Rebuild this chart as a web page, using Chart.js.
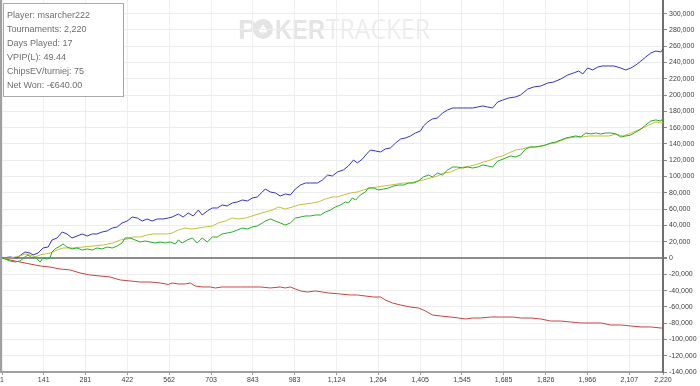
<!DOCTYPE html>
<html>
<head>
<meta charset="utf-8">
<script src="https://cdn.jsdelivr.net/npm/chart.js@4.4.1/dist/chart.umd.min.js"></script>
<style>
html, body { margin: 0; padding: 0; background: #fff; }
#wrap { width: 700px; height: 386px; position: relative; }
</style>
</head>
<body>
<div id="wrap"><canvas id="grafica"></canvas></div>
<script>
// etiquetas de los ejes
const xTicks = [1, 141, 281, 422, 562, 703, 843, 983, 1124, 1264, 1405, 1545, 1685, 1826, 1966, 2107, 2220];
const yTicks = [-140000, -120000, -100000, -80000, -60000, -40000, -20000, 0, 20000, 40000, 60000, 80000,
    100000, 120000, 140000, 160000, 180000, 200000, 220000, 240000, 260000, 280000, 300000];

const infoLines = ['Player: msarcher222', 'Tournaments: 2,220', 'Days Played: 17', 'VPIP(L): 49.44', 'ChipsEV/turniej: 75', 'Net Won: -€640.00'];

// verde: fichas ganadas (neto)
const netGames = [1,11,28,45,61,78,88,102,112,129,139,152,162,169,179,196,206,219,236,253,270,287,304,320,337,354,371,388,404,414,431,448,465,482,498,515,532,549,566,583,593,606,623,640,656,673,690,707,724,740,757,774,791,808,825,841,858,875,885,902,919,935,952,969,986,1003,1020,1036,1053,1070,1087,1104,1120,1137,1154,1164,1177,1188,1204,1221,1231,1248,1265,1282,1299,1315,1332,1349,1366,1383,1399,1416,1433,1446,1463,1480,1497,1514,1530,1547,1564,1581,1598,1615,1631,1648,1665,1675,1692,1709,1725,1742,1759,1776,1793,1810,1826,1843,1860,1877,1894,1910,1927,1944,1961,1978,1994,2011,2028,2045,2062,2078,2095,2112,2129,2146,2162,2179,2196,2213,2220];
const netChips = [0,-1200,-3700,-4900,-3700,1200,3700,0,1200,-4900,0,-1200,0,7400,11100,14700,17200,13500,11100,12300,9800,11100,9800,12300,11100,13500,12300,14700,18400,24600,24600,22100,19600,20900,19600,18400,19600,18400,19600,17200,22100,18400,22100,24600,18400,24600,19600,25800,25800,29500,30700,31900,34400,36800,35600,38100,39300,43000,45400,47900,45400,43000,40500,43000,49100,50300,51600,51600,52800,52800,56500,58900,62600,65100,68800,67500,73700,71200,77400,81000,86000,86000,83500,84700,86000,88400,89600,89600,92100,92100,94600,99500,101900,99500,104400,101900,108100,111700,111700,110500,111700,110500,111700,114200,113000,111700,119100,120300,122800,125300,124000,126500,133900,136300,136300,137500,138800,141200,142400,144900,147400,148600,149800,148600,153500,152300,153500,152300,153500,153500,152300,148600,149800,151000,154700,158400,163300,168200,169500,168200,171900];

// azul: ganado en showdown
const sdGames = [1,28,51,78,95,105,122,139,156,169,186,203,219,236,253,270,287,304,320,337,354,371,388,404,421,438,455,472,488,505,522,542,559,572,593,609,626,643,660,673,690,707,724,740,757,774,791,808,825,841,858,875,885,902,919,935,952,969,986,1003,1020,1036,1060,1077,1094,1110,1127,1147,1164,1181,1194,1211,1228,1238,1255,1272,1288,1305,1322,1339,1356,1372,1389,1406,1416,1430,1446,1463,1480,1497,1514,1530,1547,1564,1581,1598,1615,1631,1648,1665,1682,1702,1725,1742,1766,1786,1810,1833,1853,1877,1900,1920,1937,1951,1967,1984,2001,2018,2038,2055,2078,2095,2112,2129,2146,2162,2179,2196,2213,2220];
const sdChips = [0,1200,0,7400,6100,3700,6100,12300,13500,22100,24600,31900,29500,24600,27000,29500,27000,29500,29500,31900,33200,36800,38100,43000,45400,50300,49100,45400,47900,45400,47900,47900,49100,50300,54000,50300,55300,51600,58900,52800,57700,61400,61400,65100,63900,67500,68800,71200,70000,73700,74900,81000,84700,81000,79800,76100,78600,77400,84700,89600,92100,92100,92100,95800,101900,100700,105600,108100,113000,120300,116700,121600,128900,132600,131400,130200,133900,135100,141200,146100,147400,149800,153500,156000,162100,167000,170700,171900,178100,181700,184200,184200,184200,184200,184200,185400,186700,185400,184200,191600,194000,196500,197700,200200,207500,210000,211200,214900,216100,219800,224700,227200,229600,226000,233300,230900,234500,235800,235800,235800,233300,230900,233300,237000,241900,246800,251700,254200,253000,256600];

// amarillo: ajustado all-in EV
const evGames = [1,28,61,78,95,112,129,146,162,186,206,240,273,307,341,374,398,421,441,465,488,509,532,556,572,593,616,640,660,683,707,727,751,774,794,818,841,861,885,909,929,952,976,996,1020,1043,1063,1087,1110,1127,1147,1171,1194,1214,1238,1262,1282,1305,1329,1349,1372,1396,1416,1440,1463,1483,1507,1530,1551,1574,1598,1618,1641,1665,1682,1702,1725,1749,1769,1793,1816,1836,1860,1883,1904,1927,1951,1971,1994,2018,2038,2062,2085,2105,2129,2152,2172,2196,2213,2220];
const evChips = [0,0,2500,4900,3700,1200,3700,4900,6100,9800,12300,12300,13500,14700,16000,18400,22100,23300,25800,25800,28200,29500,29500,29500,30700,34400,36800,35600,36800,38100,39300,43000,45400,49100,47900,49100,51600,54000,56500,58900,62600,60200,62600,65100,66300,67500,68800,72500,74900,74900,77400,79800,81000,83500,86000,87200,88400,89600,90900,92100,92100,94600,95800,98200,100700,104400,105600,109300,111700,113000,115400,117900,120300,124000,125300,128900,132600,133900,136300,136300,137500,140000,141200,144900,147400,148600,148600,149800,149800,149800,149800,152300,149800,152300,156000,159600,163300,167000,165800,165800];

// rojo: ganado sin showdown
const nsdGames = [1,28,61,95,129,162,196,230,263,297,330,364,398,431,465,498,532,559,572,593,616,633,650,673,700,717,740,767,801,835,868,902,935,952,969,986,1003,1026,1053,1077,1097,1137,1171,1194,1221,1248,1272,1288,1312,1339,1372,1399,1423,1446,1473,1507,1534,1557,1581,1608,1641,1675,1715,1742,1776,1810,1843,1877,1910,1944,1978,2011,2045,2078,2112,2146,2179,2213,2220];
const nsdChips = [0,-2500,-4900,-7400,-9800,-11100,-13500,-14700,-18400,-20900,-22100,-23300,-27000,-28200,-29500,-29500,-30700,-32500,-30700,-31900,-31900,-30700,-34400,-35600,-35600,-36800,-35600,-35600,-35600,-35600,-35600,-36800,-35600,-36800,-35600,-38100,-40500,-41800,-40500,-41800,-43000,-44200,-45400,-45400,-46700,-47900,-47900,-51600,-55300,-57700,-60200,-61400,-65100,-70000,-71200,-72500,-73700,-74900,-73700,-73700,-72500,-72500,-72500,-73700,-73700,-74900,-77400,-77400,-78600,-79800,-79800,-79800,-82300,-82300,-83500,-84700,-84700,-86000,-86000];

function puntos(games, chips) {
    return games.map((g, i) => ({ x: g, y: chips[i] }));
}

function serie(games, chips, color) {
    return {
        data: puntos(games, chips),
        borderColor: color,
        borderWidth: 1,
        pointRadius: 0,
        tension: 0,
        fill: false
    };
}

const formato = v => Number(v).toLocaleString('en-US');

const marcaAgua = {
    id: 'marcaAgua',
    beforeDraw(chart) {
        const ctx = chart.ctx;
        ctx.save();
        ctx.fillStyle = '#fff';
        ctx.fillRect(0, 0, chart.width, chart.height);
        ctx.textBaseline = 'alphabetic';
        ctx.fillStyle = '#e4e4e4';
        ctx.font = 'bold 28px "Liberation Sans"';
        ctx.fillText('P', 238, 39);
        ctx.beginPath();
        ctx.arc(263, 29, 10, 0, Math.PI * 2);
        ctx.fill();
        ctx.fillStyle = '#fff';
        ctx.textAlign = 'center';
        ctx.font = '13px "DejaVu Sans"';
        ctx.fillText('\u2660', 263, 34);
        ctx.textAlign = 'left';
        ctx.fillStyle = '#e4e4e4';
        ctx.font = 'bold 28px "Liberation Sans"';
        ctx.fillText('KER', 275, 39, 50);
        ctx.fillStyle = '#ededed';
        ctx.font = '28px "Open Sans"';
        ctx.fillText('TRACKER', 326, 39, 104);
        ctx.restore();
    }
};

const cuadroInfo = {
    id: 'cuadroInfo',
    afterDraw(chart) {
        const ctx = chart.ctx;
        ctx.save();
        // borde izquierdo
        ctx.fillStyle = '#a0a0a0';
        ctx.fillRect(0, 0, 2, 373);
        ctx.fillStyle = '#fff';
        ctx.fillRect(3, 3, 121, 94);
        ctx.strokeStyle = '#a8a8a8';
        ctx.lineWidth = 1;
        ctx.strokeRect(3.5, 3.5, 120, 93);
        ctx.fillStyle = '#6e6e6e';
        ctx.font = '9px "Liberation Sans"';
        ctx.textBaseline = 'alphabetic';
        infoLines.forEach((t, i) => ctx.fillText(t, 7, 17.5 + i * 14.1));
        ctx.restore();
    }
};

const grafica = document.getElementById('grafica');
new Chart(grafica, {
    type: 'line',
    data: {
        datasets: [
            serie(netGames, netChips, '#28ac28'),
            serie(evGames, evChips, '#c6bf3c'),
            serie(sdGames, sdChips, '#3434c4'),
            serie(nsdGames, nsdChips, '#c84444')
        ]
    },
    options: {
        responsive: true,
        maintainAspectRatio: false,
        animation: false,
        layout: { padding: { left: 2, top: 0, right: 0, bottom: 0 } },
        plugins: { legend: { display: false }, tooltip: { enabled: false } },
        scales: {
            x: {
                type: 'linear',
                min: 1,
                max: 2220,
                afterBuildTicks: axis => { axis.ticks = xTicks.map(v => ({ value: v })); },
                afterFit: axis => { axis.height = 14; axis.paddingLeft = 0; axis.paddingRight = 0; },
                ticks: {
                    autoSkip: false,
                    maxRotation: 0,
                    padding: 1,
                    color: '#404040',
                    font: { family: 'Liberation Sans', size: 7 },
                    callback: formato
                },
                grid: { color: '#efefef', tickLength: 3, tickColor: '#999' },
                border: { color: '#a0a0a0', width: 2 }
            },
            y: {
                position: 'right',
                min: -140000,
                max: 316800,
                afterBuildTicks: axis => { axis.ticks = yTicks.map(v => ({ value: v })); },
                afterFit: axis => { axis.width = 37; axis.paddingTop = 0; axis.paddingBottom = 0; },
                ticks: {
                    padding: 2,
                    color: '#404040',
                    font: { family: 'Liberation Sans', size: 7 },
                    callback: formato
                },
                grid: {
                    color: c => (c.tick && c.tick.value === 0) ? '#8c8c8c' : '#ececec',
                    lineWidth: c => (c.tick && c.tick.value === 0) ? 2 : 1,
                    tickLength: 4,
                    tickColor: '#888'
                },
                border: { color: '#707070', width: 2 }
            }
        }
    },
    plugins: [marcaAgua, cuadroInfo]
});
</script>
</body>
</html>
